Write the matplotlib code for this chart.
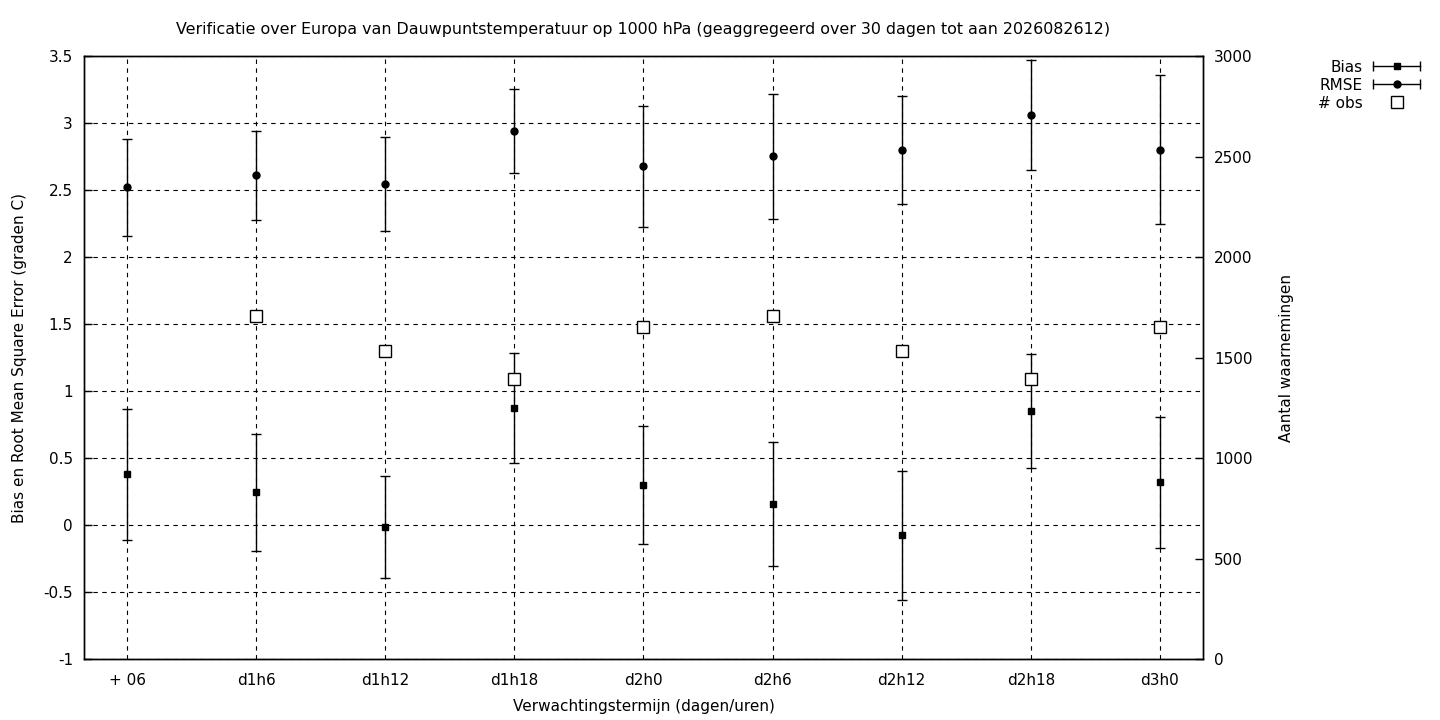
import numpy as np
import matplotlib
matplotlib.use('Agg')
import matplotlib.pyplot as plt
from matplotlib.lines import Line2D
from matplotlib.legend_handler import HandlerBase
from matplotlib.ticker import FuncFormatter

# leadtimes
labels = ["+ 06", "d1h6", "d1h12", "d1h18", "d2h0", "d2h6", "d2h12", "d2h18", "d3h0"]

bias = [0.381, 0.246, -0.015, 0.873, 0.299, 0.157, -0.075, 0.851, 0.321]
bias_err = [0.487, 0.437, 0.382, 0.41, 0.44, 0.462, 0.48, 0.425, 0.49]

rmse = [2.522, 2.612, 2.545, 2.940, 2.679, 2.754, 2.801, 3.060, 2.801]
rmse_err = [0.36, 0.33, 0.35, 0.313, 0.453, 0.465, 0.40, 0.41, 0.556]

nobs = [np.nan, 1706, 1532, 1393, 1652, 1706, 1532, 1393, 1652]

plt.rcParams['font.family'] = 'DejaVu Sans'
plt.rcParams['font.size'] = 11
plt.rcParams['axes.unicode_minus'] = False


class CapHandler(HandlerBase):
    # gnuplot style key sample: horizontal line with end caps and marker in the middle
    def create_artists(self, legend, orig, xd, yd, w, h, fontsize, trans):
        y = h / 2 - yd
        x0 = -xd
        line = Line2D([x0, x0 + w], [y, y], color='black', lw=1)
        caps = Line2D([x0, x0 + w], [y, y], ls='none', marker='|', ms=7, mew=1, color='black')
        mk = Line2D([x0 + w / 2], [y], ls='none', marker=orig.get_marker(), ms=5, color='black')
        for a in (line, caps, mk):
            a.set_transform(trans)
        return [line, caps, mk]


fig = plt.figure(figsize=(14.4, 7.2), dpi=100)
ax = fig.add_axes([84 / 1440, 1 - 659.3 / 720, (1203 - 84) / 1440, (659.3 - 56.3) / 720])
ax2 = ax.twinx()

x = np.arange(len(labels))

ax.errorbar(x, bias, yerr=bias_err, fmt='s', color='black', ms=5, elinewidth=1, capsize=3.6, capthick=1)
ax.errorbar(x, rmse, yerr=rmse_err, fmt='o', color='black', ms=5, elinewidth=1, capsize=3.6, capthick=1)
ax2.plot(x, nobs, ls='none', marker='s', ms=8.5, mfc='white', mec='black', mew=1)

ax.set_xlim(-1 / 3, len(labels) - 1 + 1 / 3)
ax.set_ylim(-1, 3.5)
ax2.set_ylim(0, 3000)

ax.set_xticks(x)
ax.set_xticklabels(labels)
ax.set_yticks(np.arange(-1, 3.51, 0.5))
ax.yaxis.set_major_formatter(FuncFormatter(lambda v, p: '%g' % v))
ax2.set_yticks(np.arange(0, 3001, 500))

ax.grid(True, color='black', ls=(0, (4, 4)), lw=0.8)
ax.set_axisbelow(True)

for a in (ax, ax2):
    a.tick_params(direction='in', length=6, width=1, pad=8)
    for s in a.spines.values():
        s.set_linewidth(1)
ax.tick_params(axis='x', length=0, pad=10)

ax.set_xlabel("Verwachtingstermijn (dagen/uren)", labelpad=8)
ax.set_ylabel("Bias en Root Mean Square Error (graden C)", labelpad=12)
ax2.set_ylabel("Aantal waarnemingen", labelpad=19)
ax.set_title("Verificatie over Europa van Dauwpuntstemperatuur op 1000 hPa (geaggregeerd over 30 dagen tot aan 2026082612)",
             fontsize=11.4, pad=16)

h_bias = Line2D([], [], marker='s', color='black')
h_rmse = Line2D([], [], marker='o', color='black')
h_obs = Line2D([], [], ls='none', marker='s', ms=8.5, mfc='white', mec='black', mew=1)
fig.legend([h_bias, h_rmse, h_obs], ["Bias", "RMSE", "# obs"],
           handler_map={h_bias: CapHandler(), h_rmse: CapHandler()},
           loc='upper right', bbox_to_anchor=(1428 / 1440, 1 - 52 / 720),
           bbox_transform=fig.transFigure, frameon=False, markerfirst=False,
           borderpad=0, labelspacing=0.2, handlelength=3.1, handletextpad=0.7)

fig.savefig("out.png", dpi=100)
